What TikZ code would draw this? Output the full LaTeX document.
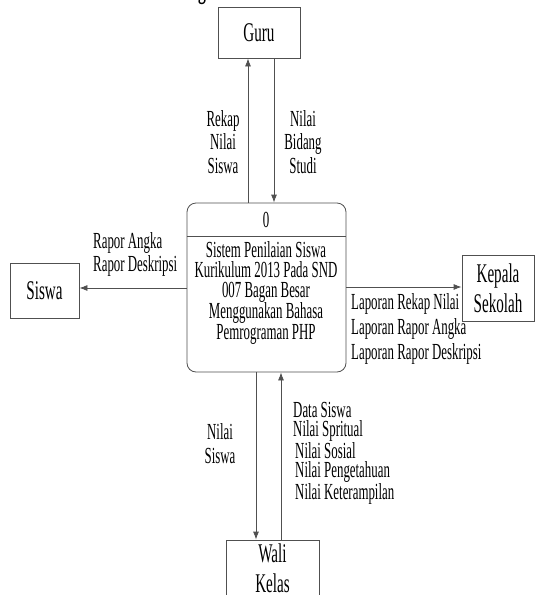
\documentclass[tikz,border=0pt]{standalone}
\usepackage{fontspec}
\setmainfont[FakeStretch=0.56]{Liberation Serif}
\usetikzlibrary{arrows.meta}
\definecolor{linec}{HTML}{505050}
\begin{document}
\begin{tikzpicture}[x=1pt,y=-1pt,
  ent/.style={draw=linec, line width=0.8pt, inner sep=0pt, align=center, font=\fontsize{27}{30}\selectfont},
  lbl/.style={inner sep=0pt, font=\fontsize{23}{21}\selectfont},
  arr/.style={draw=linec, line width=0.8pt, -{Latex[length=8pt,width=6pt]}}]
\useasboundingbox (0,0) rectangle (535,595);
\clip (0,0) rectangle (535,595);
% clipped title fragment
\node[anchor=base, inner sep=0pt, font=\bfseries\fontsize{28}{30}\selectfont] (title) at (202,-1.5) {g};
% entities
\node[ent, minimum width=82pt, minimum height=51pt] (guru) at (259,32.5) {Guru};
\node[ent, minimum width=69pt, minimum height=55pt] (siswa) at (44.5,290.5) {Siswa};
\node[ent, minimum width=72pt, minimum height=66pt] (kepala) at (498,288) {Kepala\\Sekolah};
\node[ent, minimum width=93pt, minimum height=56pt] (wali) at (272.5,568) {Wali\\Kelas};
% process
\node[draw=linec, line width=0.8pt, rounded corners=9pt, minimum width=159pt, minimum height=169pt] (proc) at (266.5,287.5) {};
\coordinate (div) at (0,236);
\draw[draw=linec, line width=0.8pt] (proc.west |- div) -- (proc.east |- div);
\node[lbl] (pid) at (266,220) {0};
\node[lbl, align=center, font=\fontsize{23}{20}\selectfont] (ptext) at (266,293) {Sistem Penilaian Siswa\\Kurikulum 2013 Pada SND\\007 Bagan Besar\\Menggunakan Bahasa\\Pemrograman PHP};
% connector x/y guides
\coordinate (gx1) at (248,0);
\coordinate (gx2) at (274,0);
\coordinate (wx1) at (256,0);
\coordinate (wx2) at (281,0);
\coordinate (sy) at (0,288);
\coordinate (ky) at (0,287);
% connectors
\draw[arr] (gx1 |- proc.north) -- (gx1 |- guru.south);
\draw[arr] (gx2 |- guru.south) -- (gx2 |- proc.north);
\draw[arr] (proc.west |- sy) -- (siswa.east |- sy);
\draw[arr] (proc.east |- ky) -- (kepala.west |- ky);
\draw[arr] (wx1 |- proc.south) -- (wx1 |- wali.north);
\draw[arr] (wx2 |- wali.north) -- (wx2 |- proc.south);
% labels
\node[lbl, align=center, font=\fontsize{23}{23.5}\selectfont] (l1) at (223,142) {Rekap\\Nilai\\Siswa};
\node[lbl, align=center, font=\fontsize{23}{23.5}\selectfont] (l2) at (303,142) {Nilai\\Bidang\\Studi};
\node[lbl, align=left, anchor=west, font=\fontsize{23}{23}\selectfont] (l3) at (93,254.5) {Rapor Angka\\Rapor Deskripsi};
\node[lbl, align=left, anchor=west, font=\fontsize{23}{25}\selectfont] (l4) at (351,328.5) {Laporan Rekap Nilai\\Laporan Rapor Angka\\Laporan Rapor Deskripsi};
\node[lbl, align=center, font=\fontsize{23}{24}\selectfont] (l5) at (220,444) {Nilai\\Siswa};
\node[lbl, align=left, anchor=west, font=\fontsize{23}{19}\selectfont] (l6) at (293,453) {Data Siswa\\Nilai Spritual\\\hspace*{2pt}Nilai Sosial\\\hspace*{2pt}Nilai Pengetahuan\\\hspace*{2pt}Nilai Keterampilan};
\end{tikzpicture}
\end{document}
